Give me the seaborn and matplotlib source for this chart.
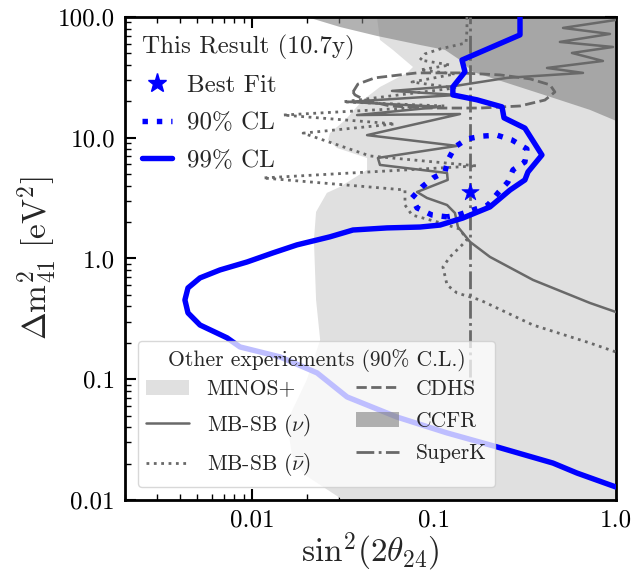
import numpy as np
import matplotlib
matplotlib.use("Agg")
import matplotlib.pyplot as plt
import seaborn as sns
from matplotlib.lines import Line2D
from matplotlib.patches import Patch

sns.set_theme(style="ticks")
plt.rcParams.update({
    "font.family": ["cmr10", "DejaVu Serif"],
    "mathtext.fontset": "cm",
    "axes.formatter.use_mathtext": True,
    "axes.unicode_minus": False,
})

# ---------------- data (sin^2(2theta_24), dm^2_41 [eV^2]) ----------------
# This result, 99% CL contour
cl99_x = [0.297, 0.297, 0.1426, 0.148, 0.127, 0.127, 0.172, 0.2365, 0.2426, 0.316,
          0.392, 0.3285, 0.316, 0.262, 0.203, 0.144, 0.108, 0.0838, 0.0552, 0.0359,
          0.0268, 0.01766, 0.0130, 0.0094, 0.00667, 0.00518, 0.00445, 0.00428, 0.00445,
          0.00518, 0.0073, 0.00859, 0.01426, 0.0228, 0.0333, 0.0626, 0.118, 0.222,
          0.451, 0.611, 1.0]
cl99_y = [100.0, 71.0, 44.0, 35.1, 26.3, 22.6, 20.6, 18.0, 14.6, 12.0,
          7.19, 5.20, 4.47, 3.69, 2.67, 2.16, 1.89, 1.82, 1.79, 1.72,
          1.51, 1.295, 1.11, 0.935, 0.803, 0.690, 0.570, 0.453, 0.354,
          0.281, 0.220, 0.185, 0.153, 0.1127, 0.0713, 0.0486, 0.0359, 0.0275,
          0.0202, 0.0167, 0.0128]

# This result, 90% CL contour (closed)
cl90_x = [0.1179, 0.0975, 0.0807, 0.0757, 0.0859, 0.0987, 0.1149, 0.1194, 0.1304,
          0.1518, 0.1835, 0.2218, 0.268, 0.3243, 0.316, 0.2716, 0.255, 0.2247,
          0.198, 0.1637, 0.1355, 0.1179]
cl90_y = [2.21, 2.29, 2.62, 3.17, 3.91, 4.64, 5.20, 6.55, 8.38,
          9.76, 10.3, 10.5, 9.58, 8.07, 6.30, 5.41, 4.30, 3.49,
          2.77, 2.52, 2.29, 2.21]

best_fit_x = [0.158]
best_fit_y = [3.55]

# MINOS+ excluded region, left boundary (top -> bottom)
minos_x = [0.0486, 0.0505, 0.0595, 0.0767, 0.0711, 0.0505, 0.0407, 0.0325, 0.0268,
           0.0262, 0.0293, 0.0429, 0.0429, 0.0304, 0.0258, 0.0225, 0.0219, 0.0225,
           0.0237, 0.0200, 0.0162, 0.0158, 0.0166, 0.0196, 0.0316]
minos_y = [100.0, 64.5, 53.3, 38.5, 34.4, 26.3, 20.5, 14.0, 10.9,
           9.58, 8.22, 6.79, 5.41, 3.91, 3.49, 2.43, 1.42, 0.453,
           0.211, 0.0986, 0.0506, 0.0380, 0.0236, 0.0161, 0.01]

# CCFR excluded region, lower boundary (left -> right)
ccfr_x = [0.0200, 0.0304, 0.0486, 0.0838, 0.115, 0.139, 0.1637, 0.252, 0.434, 0.719, 1.0]
ccfr_y = [100.0, 82.6, 69.6, 58.6, 53.3, 44.0, 35.1, 28.4, 21.8, 17.0, 13.8]

# CDHS contour
cdhs_x = [0.0359, 0.0382, 0.0474, 0.0807, 0.139, 0.2307, 0.337, 0.434, 0.462, 0.407,
          0.297, 0.179, 0.0951, 0.0573, 0.0418, 0.0368, 0.0359]
cdhs_y = [23.9, 27.8, 31.3, 34.4, 34.4, 33.1, 30.7, 27.4, 23.9, 20.5,
          18.3, 17.6, 17.6, 18.3, 20.5, 22.6, 23.9]

# MiniBooNE + SciBooNE (nu)
mbsb_nu_x = [1.0, 0.512, 0.927, 0.492, 0.963, 0.573, 0.848, 0.418, 0.659, 0.252,
             0.1304, 0.0588, 0.1338, 0.0337, 0.108, 0.0378, 0.139, 0.0429, 0.1338,
             0.0492, 0.0505, 0.118, 0.119, 0.0807, 0.0915, 0.118, 0.1304, 0.1355,
             0.158, 0.203, 0.350, 0.719, 1.0]
mbsb_nu_y = [94.4, 81.1, 72.3, 62.1, 56.4, 50.3, 43.2, 37.8, 34.4, 31.3,
             26.8, 24.4, 22.6, 19.8, 18.0, 15.4, 15.7, 10.5, 8.55,
             6.80, 5.95, 5.10, 4.47, 3.55, 3.17, 2.77, 2.38, 1.82,
             1.37, 1.03, 0.664, 0.428, 0.360]

# MiniBooNE + SciBooNE (nubar)
mbsb_nubar_x = [0.1518, 0.1518, 0.150, 0.108, 0.0892, 0.0838, 0.1225, 0.0838, 0.1304,
                0.0757, 0.1304, 0.0316, 0.1149, 0.0148, 0.0611, 0.0191, 0.0445, 0.172,
                0.0115, 0.0693, 0.0693, 0.0757, 0.105, 0.139, 0.1518, 0.1225, 0.112,
                0.118, 0.1338, 0.179, 0.350, 0.719, 1.0]
mbsb_nubar_y = [100.0, 78.0, 60.9, 54.3, 49.4, 44.0, 40.0, 36.4, 33.7,
                28.9, 25.8, 19.8, 18.3, 15.4, 13.0, 10.9, 7.06, 5.84,
                4.64, 3.69, 2.77, 2.29, 2.00, 1.75, 1.42, 1.03, 0.85,
                0.603, 0.518, 0.453, 0.281, 0.1995, 0.168]

# Super-Kamiokande
superk_x = [0.158, 0.158]
superk_y = [0.104, 100.0]

x_ticks = [0.01, 0.1, 1.0]
x_ticklabels = ["0.01", "0.1", "1.0"]
y_ticks = [0.01, 0.1, 1.0, 10.0, 100.0]
y_ticklabels = ["0.01", "0.1", "1.0", "10.0", "100.0"]

# ---------------- figure ----------------
fig = plt.figure(figsize=(6.35, 5.74), dpi=100)
ax = fig.add_axes([0.1965, 0.129, 0.7735, 0.8415])
ax.set_xscale("log")
ax.set_yscale("log")

minos_col = "#e0e0e0"
ccfr_col = "grey"
ccfr_alpha = 0.6
gcol = "dimgray"
blue_lw = 3.9

ax.fill(np.r_[minos_x, 1.0, 1.0], np.r_[minos_y, 0.01, 100.0],
        color=minos_col, lw=0, zorder=1)
ax.fill(np.r_[ccfr_x, 1.0], np.r_[ccfr_y, 100.0],
        color=ccfr_col, alpha=ccfr_alpha, lw=0, zorder=2)

def line(x, y, **kw):
    sns.lineplot(x=x, y=y, sort=False, estimator=None, ax=ax, legend=False, **kw)

line(mbsb_nu_x, mbsb_nu_y, color=gcol, lw=1.8, linestyle="-", zorder=3)
line(mbsb_nubar_x, mbsb_nubar_y, color=gcol, lw=2.0, linestyle=":", zorder=3)
line(cdhs_x, cdhs_y, color=gcol, lw=2.0, linestyle="--", zorder=3)
line(superk_x, superk_y, color=gcol, lw=2.0, linestyle="-.", zorder=3)

line(cl99_x, cl99_y, color="blue", lw=blue_lw, linestyle="-", zorder=5)
line(cl90_x, cl90_y, color="blue", lw=blue_lw, linestyle=":", zorder=5)
sns.scatterplot(x=best_fit_x, y=best_fit_y, marker="*", s=170, color="blue",
                edgecolor="blue", linewidth=0.5, ax=ax, zorder=6, legend=False)

ax.set_xlim(0.002, 1.0)
ax.set_ylim(0.01, 100.0)
ax.set_xticks(x_ticks, labels=x_ticklabels)
ax.set_yticks(y_ticks, labels=y_ticklabels)
ax.xaxis.set_minor_formatter(matplotlib.ticker.NullFormatter())
ax.yaxis.set_minor_formatter(matplotlib.ticker.NullFormatter())
ax.tick_params(which="both", direction="in", top=True, right=True, colors="black")
ax.tick_params(which="major", length=8, width=1.5, labelsize=18, pad=7)
ax.tick_params(which="minor", length=4, width=1.0)
for sp in ax.spines.values():
    sp.set_linewidth(2.0)
    sp.set_color("black")

ax.set_xlabel(r"$\mathrm{sin}^2(2\theta_{24})$", fontsize=24, labelpad=-1)
ax.set_ylabel(r"$\Delta \mathrm{m}^2_{41}\ [\mathrm{eV}^2]$", fontsize=24, labelpad=-1)

# legends
h1 = [Line2D([], [], marker="*", color="blue", ls="none", markersize=14),
      Line2D([], [], color="blue", lw=blue_lw, ls=":"),
      Line2D([], [], color="blue", lw=blue_lw, ls="-")]
leg1 = ax.legend(h1, ["Best Fit", "90% CL", "99% CL"], title="This Result (10.7y)",
                 loc="upper left", frameon=False, fontsize=18, title_fontsize=18,
                 handlelength=1.2, handletextpad=0.6, labelspacing=0.6,
                 borderaxespad=0.3, alignment="left")
ax.add_artist(leg1)

h2 = [Patch(facecolor=minos_col, edgecolor="none"),
      Line2D([], [], color=gcol, lw=1.8, ls="-"),
      Line2D([], [], color=gcol, lw=2.0, ls=":"),
      Line2D([], [], color=gcol, lw=2.0, ls="--"),
      Patch(facecolor=ccfr_col, alpha=ccfr_alpha, edgecolor="none"),
      Line2D([], [], color=gcol, lw=2.0, ls="-.")]
l2 = ["MINOS+", r"MB-SB ($\nu$)", r"MB-SB ($\bar{\nu}$)", "CDHS", "CCFR", "SuperK"]
leg2 = ax.legend(h2, l2, title="Other experiements (90% C.L.)", ncol=2,
                 loc="lower left", fontsize=15.5, title_fontsize=15.5,
                 frameon=True, framealpha=0.75, fancybox=True,
                 borderaxespad=0.6, labelspacing=0.6, columnspacing=2.1)
leg2.get_frame().set_edgecolor("#cccccc")
leg2.set_zorder(10)
try:
    leg2._legend_box.sep = 0.22 * 15.5 * 100 / 72.0
except Exception:
    pass

fig.savefig("out.png", dpi=100)
